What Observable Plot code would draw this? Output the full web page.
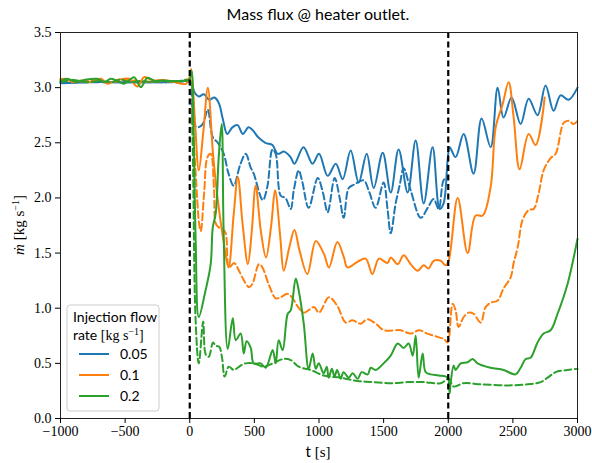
<!DOCTYPE html>
<html><head><meta charset="utf-8">
<script src="https://cdn.jsdelivr.net/npm/d3@7"></script>
<script src="https://cdn.jsdelivr.net/npm/@observablehq/plot@0.6"></script>
<style>body{margin:0;background:#fff}</style>
</head><body><div id="chart"></div>
<script>
// ---- data: [t (s), mass flux (kg/s)] ----
const blueSolid = [[-1000,3.04],[-800,3.05],[-600,3.05],[-400,3.05],[-200,3.05],[0,3.05],[40,2.95],[70,2.92],[110,2.94],[150,2.89],[190,2.91],[225,2.86],[255,2.72],[290,2.58],[330,2.64],[370,2.66],[410,2.58],[455,2.64],[490,2.61],[530,2.55],[585,2.50],[640,2.48],[680,2.40],[730,2.42],[780,2.37],[810,2.31],[880,2.46],[950,2.31],[1000,2.40],[1067,2.20],[1130,2.31],[1183,2.17],[1245,2.43],[1307,2.14],[1369,2.40],[1423,2.09],[1493,2.41],[1555,2.05],[1616,2.44],[1686,2.05],[1748,2.52],[1810,1.95],[1879,2.46],[1934,1.90],[1964,1.95],[1995,2.34],[2011,2.46],[2057,2.37],[2119,2.58],[2196,2.22],[2258,2.72],[2328,2.46],[2382,3.00],[2428,2.73],[2490,2.91],[2560,2.67],[2622,2.90],[2691,2.75],[2753,3.02],[2815,2.79],[2869,2.93],[2931,2.89],[3000,3.00]];
const blueDashed = [[-1000,3.05],[-700,3.05],[-400,3.05],[-100,3.05],[0,3.05],[15,2.85],[31,2.67],[62,2.64],[100,2.67],[139,2.80],[178,2.55],[217,2.50],[263,2.40],[300,2.22],[340,2.11],[390,2.30],[433,2.40],[470,2.28],[495,2.22],[565,1.98],[600,2.10],[640,2.44],[665,2.40],[704,2.02],[740,2.00],[781,1.90],[805,2.07],[843,2.25],[870,2.15],[920,1.91],[990,2.18],[1030,2.05],[1067,1.87],[1121,2.18],[1160,2.00],[1191,1.82],[1230,2.09],[1270,2.12],[1299,2.14],[1346,2.16],[1390,2.05],[1438,1.91],[1500,2.14],[1530,1.90],[1555,1.68],[1593,1.95],[1625,2.12],[1655,2.27],[1709,2.07],[1787,1.82],[1841,1.91],[1887,1.99],[1926,1.90],[1964,2.16],[1995,2.19]];
const orangeSolid = [[-1000,3.07],[-966,3.08],[-902,3.05],[-840,3.065],[-765,3.05],[-688,3.08],[-637,3.035],[-573,3.065],[-470,3.08],[-405,3.01],[-353,3.095],[-289,3.065],[-198,3.07],[-120,3.05],[-30,3.035],[0,3.10],[12,3.17],[40,2.70],[70,2.25],[105,2.60],[140,3.00],[180,2.40],[215,2.00],[260,1.62],[300,1.37],[340,1.85],[372,2.19],[410,1.75],[450,1.40],[480,1.70],[510,2.11],[550,1.70],[590,1.46],[630,1.75],[660,2.07],[700,1.65],[727,1.34],[770,1.55],[810,1.71],[850,1.52],[910,1.31],[975,1.61],[1039,1.49],[1077,1.37],[1142,1.60],[1193,1.46],[1220,1.37],[1297,1.42],[1361,1.45],[1413,1.31],[1464,1.45],[1529,1.41],[1555,1.46],[1609,1.40],[1655,1.48],[1709,1.40],[1764,1.34],[1810,1.39],[1848,1.36],[1887,1.43],[1941,1.43],[1980,1.39],[2003,1.43],[2073,2.00],[2150,1.50],[2212,1.84],[2266,1.84],[2328,2.10],[2367,2.64],[2421,2.85],[2467,3.05],[2506,2.73],[2552,2.26],[2622,2.58],[2676,2.48],[2746,2.91]];
const orangeDashed = [[-1000,3.08],[-930,3.06],[-860,3.05],[-780,3.07],[-700,3.06],[-600,3.05],[-500,3.07],[-400,3.06],[-300,3.05],[-200,3.06],[-100,3.05],[0,3.07],[20,2.70],[46,2.22],[72,1.77],[85,1.70],[111,2.04],[137,2.37],[162,2.40],[188,2.07],[201,1.77],[227,1.73],[253,1.72],[278,1.68],[304,1.37],[343,1.41],[381,1.34],[420,1.25],[459,1.19],[485,1.22],[536,1.40],[562,1.37],[613,1.21],[665,1.09],[704,1.10],[755,1.13],[790,1.10],[833,1.02],[884,0.96],[961,1.01],[1000,0.96],[1077,1.10],[1142,1.02],[1207,0.87],[1258,0.89],[1322,0.86],[1374,0.90],[1439,0.86],[1503,0.80],[1632,0.80],[1709,0.77],[1774,0.80],[1838,0.77],[1916,0.74],[1967,0.72],[1993,0.69],[2003,0.71],[2034,1.04],[2057,0.98],[2080,0.83],[2119,0.92],[2158,0.96],[2196,0.95],[2251,0.87],[2289,1.01],[2328,1.05],[2382,1.07],[2428,1.18],[2483,1.28],[2506,1.41],[2537,1.55],[2575,1.80],[2622,1.89],[2661,1.90],[2699,2.04],[2738,2.25],[2792,2.36],[2831,2.40],[2893,2.68],[2931,2.70],[2970,2.67],[3000,2.70]];
const greenSolid = [[-1000,3.06],[-946,3.08],[-882,3.05],[-817,3.07],[-714,3.08],[-662,3.05],[-611,3.08],[-560,3.06],[-508,3.035],[-431,3.095],[-379,3.005],[-327,3.09],[-270,3.06],[-224,3.065],[-120,3.06],[-18,3.065],[0,3.08],[14,3.15],[30,2.60],[46,1.60],[70,0.92],[120,1.15],[162,1.40],[178,1.73],[201,1.86],[224,2.37],[247,2.67],[262,1.70],[294,0.63],[333,0.91],[356,0.71],[394,0.77],[418,0.59],[440,0.70],[472,0.64],[495,0.50],[549,0.50],[588,0.46],[642,0.62],[665,0.50],[688,0.71],[719,0.62],[758,0.95],[781,0.98],[820,1.27],[843,1.16],[882,0.86],[920,0.45],[951,0.59],[975,0.45],[998,0.50],[1036,0.41],[1060,0.47],[1075,0.37],[1100,0.45],[1120,0.38],[1140,0.44],[1168,0.36],[1190,0.42],[1230,0.37],[1260,0.41],[1299,0.36],[1330,0.42],[1377,0.40],[1400,0.46],[1439,0.44],[1500,0.50],[1555,0.57],[1609,0.68],[1655,0.64],[1694,0.68],[1725,0.57],[1748,0.75],[1771,0.37],[1802,0.59],[1825,0.42],[1864,0.40],[1926,0.39],[1995,0.37],[2011,0.23],[2018,0.32],[2042,0.48],[2057,0.44],[2096,0.50],[2150,0.51],[2189,0.54],[2227,0.50],[2328,0.46],[2428,0.44],[2521,0.40],[2560,0.46],[2599,0.54],[2637,0.55],[2691,0.69],[2738,0.77],[2792,0.80],[2846,0.95],[2923,1.22],[3000,1.63]];
const greenDashed = [[-1000,3.05],[-900,3.07],[-800,3.05],[-700,3.06],[-600,3.05],[-534,3.075],[-470,3.05],[-380,3.06],[-300,3.05],[-200,3.06],[-100,3.055],[0,3.06],[20,2.60],[45,0.90],[70,0.50],[104,0.88],[124,0.58],[147,0.56],[180,0.69],[200,0.66],[228,0.65],[250,0.55],[270,0.38],[302,0.47],[340,0.44],[371,0.46],[394,0.48],[433,0.50],[495,0.50],[572,0.47],[642,0.50],[727,0.54],[781,0.53],[843,0.47],[936,0.44],[1036,0.39],[1168,0.37],[1299,0.34],[1423,0.33],[1555,0.32],[1686,0.33],[1810,0.33],[1941,0.32],[2003,0.36],[2042,0.29],[2119,0.32],[2251,0.31],[2459,0.30],[2614,0.31],[2715,0.33],[2769,0.37],[2831,0.42],[2923,0.44],[3000,0.45]];
const eventTimes = [0, 2000];
const xTicks = [-1000, -500, 0, 500, 1000, 1500, 2000, 2500, 3000];
const yTicks = [0, 0.5, 1, 1.5, 2, 2.5, 3, 3.5];
const rates = ["0.05", "0.1", "0.2"];
const colors = ["#1f77b4", "#ff7f0e", "#2ca02c"];

const dash = "7,3.5";
const line = (data, color, dashed) => Plot.line(data, {
  x: d => d[0], y: d => d[1], stroke: color, strokeWidth: 2,
  strokeDasharray: dashed ? dash : null, curve: "catmull-rom"
});

const chart = Plot.plot({
  width: 592, height: 463,
  marginLeft: 60, marginRight: 15, marginTop: 32, marginBottom: 45,
  style: {fontFamily: "Liberation Serif", fontSize: "14px", color: "black", background: "white"},
  x: {domain: [-1000, 3000]},
  y: {domain: [0, 3.5]},
  marks: [
    line(blueSolid, colors[0], false),
    line(blueDashed, colors[0], true),
    line(orangeSolid, colors[1], false),
    line(orangeDashed, colors[1], true),
    line(greenSolid, colors[2], false),
    line(greenDashed, colors[2], true),
    Plot.ruleX(eventTimes, {stroke: "black", strokeWidth: 2.2, strokeDasharray: "6,3.5"}),
    Plot.frame({stroke: "#222", strokeWidth: 1}),
    Plot.axisX({ticks: xTicks, tickSize: 5, tickPadding: 3, label: null,
      tickFormat: d => d < 0 ? "\u2212" + Math.abs(d) : String(d)}),
    Plot.axisY({ticks: yTicks, tickSize: 5, tickPadding: 4, label: null,
      tickFormat: d3.format(".1f")})
  ]
});
document.getElementById("chart").append(chart);

const svg = d3.select(chart);
const sans = "Lato, 'DejaVu Sans', sans-serif";
const serif = "'Liberation Serif', serif";

// title
svg.append("text").attr("x", 318).attr("y", 20).attr("text-anchor", "middle")
  .attr("font-family", sans).attr("font-size", 16).attr("fill", "black")
  .text("Mass flux @ heater outlet.");

// x label
const xl = svg.append("text").attr("x", 318).attr("y", 457).attr("text-anchor", "middle")
  .attr("font-size", 15).attr("fill", "black");
xl.append("tspan").attr("font-family", sans).text("t ");
xl.append("tspan").attr("font-family", serif).text("[s]");

// y label
const yl = svg.append("text").attr("transform", "translate(24,225) rotate(-90)")
  .attr("text-anchor", "middle").attr("font-family", serif).attr("font-size", 15).attr("fill", "black");
yl.append("tspan").attr("font-style", "italic").text("ṁ");
yl.append("tspan").text(" [kg s");
yl.append("tspan").attr("font-size", 10).attr("dy", -5).text("\u22121");
yl.append("tspan").attr("dy", 5).text("]");

// legend
const lg = svg.append("g").attr("text-anchor", "start");
lg.append("rect").attr("x", 67).attr("y", 305).attr("width", 92).attr("height", 106)
  .attr("rx", 3).attr("fill", "white").attr("fill-opacity", 0.8).attr("stroke", "#cccccc");
lg.append("text").attr("x", 73).attr("y", 322).attr("text-anchor", "start").attr("font-family", sans).attr("font-size", 14)
  .attr("fill", "black").text("Injection flow");
const lt = lg.append("text").attr("x", 73).attr("y", 340).attr("text-anchor", "start").attr("font-size", 14).attr("fill", "black");
lt.append("tspan").attr("font-family", sans).text("rate ");
lt.append("tspan").attr("font-family", serif).text("[kg s");
lt.append("tspan").attr("font-family", serif).attr("font-size", 10).attr("dy", -5).text("\u22121");
lt.append("tspan").attr("font-family", serif).attr("dy", 5).text("]");
rates.forEach((r, i) => {
  const y = 354 + i * 21;
  lg.append("line").attr("x1", 79).attr("x2", 109).attr("y1", y).attr("y2", y)
    .attr("stroke", colors[i]).attr("stroke-width", 2);
  lg.append("text").attr("x", 120).attr("y", y + 5).attr("text-anchor", "start").attr("font-family", sans).attr("font-size", 14)
    .attr("fill", "black").text(r);
});
</script>
</body></html>
